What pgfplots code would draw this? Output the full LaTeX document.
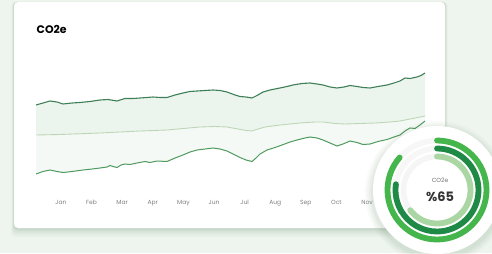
\documentclass[border=0pt]{standalone}
\usepackage{pgfplots}
\pgfplotsset{compat=1.18}
\usepgfplotslibrary{fillbetween}
\usepackage{fontspec}
\setmainfont{Poppins}
\definecolor{bgc}{HTML}{EEF5EF}
\definecolor{topc}{HTML}{3E7F58}
\definecolor{midc}{HTML}{BCD6B6}
\definecolor{botc}{HTML}{4F9A5F}
\definecolor{ringA}{HTML}{45B64C}
\definecolor{ringB}{HTML}{1F8A45}
\definecolor{ringC}{HTML}{A9D6A2}
\definecolor{fillA}{HTML}{ECF5ED}
\definecolor{fillB}{HTML}{F5F9F5}
\begin{document}
\begin{tikzpicture}[x=1bp,y=1bp]
% background
\fill[bgc] (0,0) rectangle (492,253);
% card shadow
\foreach \d/\o in {9/0.03,7/0.04,5/0.05,3/0.06,1.5/0.06}{
  \fill[black!60!green!40!gray,opacity=\o,rounded corners=4] (14-\d*0.3,25-\d) rectangle (445+\d*0.3,251);
}
\fill[white,rounded corners=4] (14,25) rectangle (445,251);
\begin{axis}[
  at={(0,0)}, anchor=south west,
  scale only axis, width=492bp, height=253bp,
  xmin=0, xmax=492, ymin=0, ymax=253,
  clip=false,
  fill between/on layer=main,
  axis line style={draw=none},
  ytick=\empty,
  xtick={61,91.6,122.2,152.8,183.4,214,244.6,275.2,305.8,336.4,367,397.6},
  xticklabels={Jan,Feb,Mar,Apr,May,Jun,Jul,Aug,Sep,Oct,Nov,Dec},
  major tick length=0,
  xticklabel style={font=\fontsize{6}{6}\selectfont, text=black!50, yshift=49bp, anchor=base},
]
\addplot[name path=top, draw=none, forget plot] coordinates {
(36,148) (43,150) (50,152) (57,151) (63,149) (72,150) (80,150.5) (90,151.5) (100,153) (108,153.5) (117,152) (125,154.5) (133,154.5) (140,155) (147,155.5) (153,156) (160,155.5) (167,155.5) (175,158) (183,160) (190,161.5) (197,162) (205,162.5) (213,163) (220,162.5) (227,161) (235,158) (240,156.5) (246,156) (252,155) (257,157.5) (263,161) (270,163) (280,165) (287,166.5) (293,168) (302,169.5) (310,170) (317,169) (323,168) (330,166) (337,165) (344,166) (350,167.5) (357,166.5) (363,165.5) (370,165) (378,166.5) (387,168) (394,170) (400,172) (405,175) (410,174.5) (417,176) (421,177.5) (425,180)};
\addplot[name path=mid, draw=none, forget plot] coordinates {
(36,118) (60,118.5) (100,120) (140,122) (167,123) (183,124.5) (200,126) (215,126.5) (227,126) (238,124) (246,122.5) (252,122) (258,124) (265,126) (280,128) (300,130) (315,131) (323,131) (335,129.5) (345,129) (360,129.5) (375,130) (390,131) (400,132) (410,134) (418,135.5) (425,137)};
\addplot[name path=bot, draw=none, forget plot] coordinates {
(36,79) (43,81.5) (50,83) (57,81.5) (63,80.5) (72,81.5) (83,83) (92,84) (100,85) (107,86) (110,87.5) (113,86.5) (117,85.5) (121,88) (125,89) (130,88.5) (137,90) (145,91.5) (150,90.5) (157,92) (167,91.5) (175,95) (183,98) (190,101) (197,103) (205,104) (213,105) (220,104) (227,102) (235,98) (240,95.5) (246,93) (252,91.5) (256,95) (260,99) (267,103) (275,105.5) (282,108) (290,111) (297,113) (305,115) (310,116) (317,115) (323,113) (330,110) (337,107) (343,109) (350,112) (357,110.5) (363,108.5) (370,109) (378,111.5) (387,113.5) (394,116) (400,118) (405,122) (410,125) (415,124.5) (420,128) (425,132)};
\addplot[fill=fillA, draw=none, forget plot] fill between[of=top and mid];
\addplot[fill=fillB, draw=none, forget plot] fill between[of=mid and bot];
% lines
\addplot[topc, line width=1.1pt] coordinates {
(36,148) (43,150) (50,152) (57,151) (63,149) (72,150) (80,150.5) (90,151.5) (100,153) (108,153.5) (117,152) (125,154.5) (133,154.5) (140,155) (147,155.5) (153,156) (160,155.5) (167,155.5) (175,158) (183,160) (190,161.5) (197,162) (205,162.5) (213,163) (220,162.5) (227,161) (235,158) (240,156.5) (246,156) (252,155) (257,157.5) (263,161) (270,163) (280,165) (287,166.5) (293,168) (302,169.5) (310,170) (317,169) (323,168) (330,166) (337,165) (344,166) (350,167.5) (357,166.5) (363,165.5) (370,165) (378,166.5) (387,168) (394,170) (400,172) (405,175) (410,174.5) (417,176) (421,177.5) (425,180)};
\addplot[midc, line width=0.9pt] coordinates {
(36,118) (60,118.5) (100,120) (140,122) (167,123) (183,124.5) (200,126) (215,126.5) (227,126) (238,124) (246,122.5) (252,122) (258,124) (265,126) (280,128) (300,130) (315,131) (323,131) (335,129.5) (345,129) (360,129.5) (375,130) (390,131) (400,132) (410,134) (418,135.5) (425,137)};
\addplot[botc, line width=1pt] coordinates {
(36,79) (43,81.5) (50,83) (57,81.5) (63,80.5) (72,81.5) (83,83) (92,84) (100,85) (107,86) (110,87.5) (113,86.5) (117,85.5) (121,88) (125,89) (130,88.5) (137,90) (145,91.5) (150,90.5) (157,92) (167,91.5) (175,95) (183,98) (190,101) (197,103) (205,104) (213,105) (220,104) (227,102) (235,98) (240,95.5) (246,93) (252,91.5) (256,95) (260,99) (267,103) (275,105.5) (282,108) (290,111) (297,113) (305,115) (310,116) (317,115) (323,113) (330,110) (337,107) (343,109) (350,112) (357,110.5) (363,108.5) (370,109) (378,111.5) (387,113.5) (394,116) (400,118) (405,122) (410,125) (415,124.5) (420,128) (425,132)};
\end{axis}
% title
\node[anchor=base west, inner sep=0, font=\fontsize{11}{12}\selectfont\bfseries] at (36.5,220) {CO2e};
% donut
\foreach \d/\o in {8/0.03,6/0.04,4/0.05,2/0.06}{
  \fill[black!50!green!30!gray,opacity=\o] (437,60) circle (64+\d);
}
\fill[white] (437,63) circle (64);
\draw[black!3, line width=5.5bp] (437,63) circle (49.5);
\draw[black!3, line width=5.5bp] (437,63) circle (41.5);
\draw[black!4, line width=5.5bp] (437,63) circle (33.5);
\draw[ringA, line width=5.8bp, line cap=round] (437,63) ++(90:49.5) arc[start angle=90, end angle=-221, radius=49.5];
\draw[ringB, line width=5.8bp, line cap=round] (437,63) ++(90:41.5) arc[start angle=90, end angle=-188, radius=41.5];
\draw[ringC, line width=5.8bp, line cap=round] (437,63) ++(90:33.5) arc[start angle=90, end angle=-143, radius=33.5];
\node[anchor=base, inner sep=0, text=black!55, font=\fontsize{6}{7}\selectfont] at (440,71) {CO2e};
\node[anchor=base, inner sep=0, text=black!80, font=\fontsize{13}{14}\selectfont\bfseries] at (440,52) {\%65};
\pgfresetboundingbox
\useasboundingbox (0,0) rectangle (492,253);
\end{tikzpicture}
\end{document}
